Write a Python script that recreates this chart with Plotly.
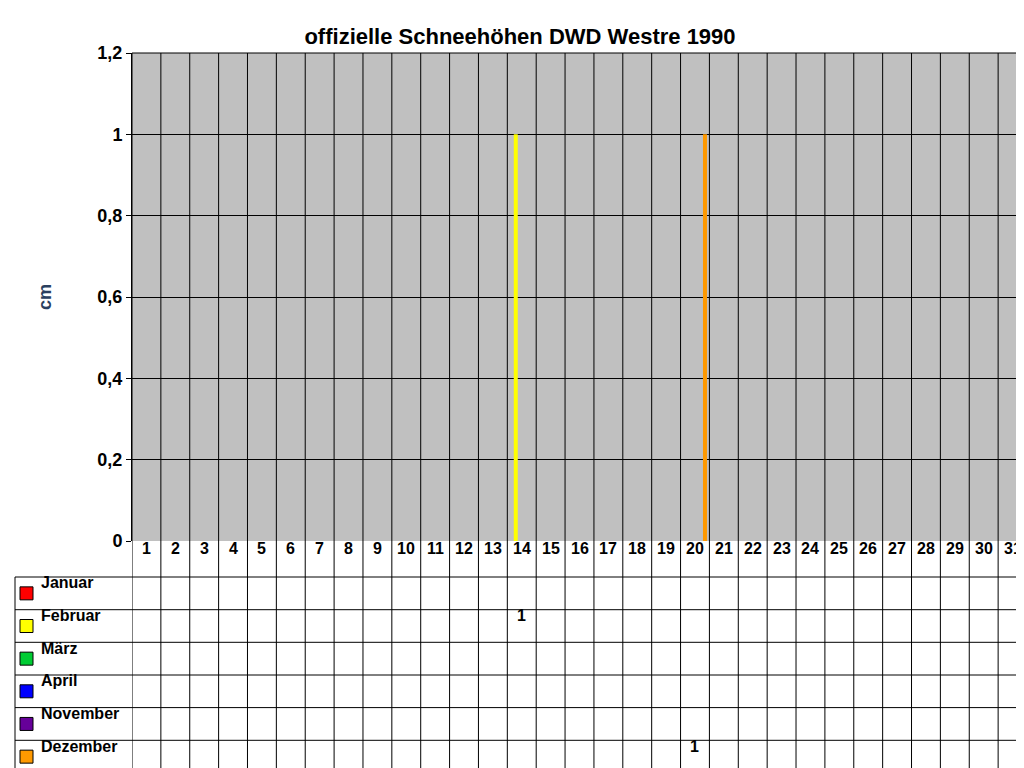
import plotly.graph_objects as go

days = [str(d) for d in range(1, 32)]
januar   = [0,0,0,0,0,0,0,0,0,0,0,0,0,0,0,0,0,0,0,0,0,0,0,0,0,0,0,0,0,0,0]
februar  = [0,0,0,0,0,0,0,0,0,0,0,0,0,1,0,0,0,0,0,0,0,0,0,0,0,0,0,0,0,0,0]
maerz    = [0,0,0,0,0,0,0,0,0,0,0,0,0,0,0,0,0,0,0,0,0,0,0,0,0,0,0,0,0,0,0]
april    = [0,0,0,0,0,0,0,0,0,0,0,0,0,0,0,0,0,0,0,0,0,0,0,0,0,0,0,0,0,0,0]
november = [0,0,0,0,0,0,0,0,0,0,0,0,0,0,0,0,0,0,0,0,0,0,0,0,0,0,0,0,0,0,0]
dezember = [0,0,0,0,0,0,0,0,0,0,0,0,0,0,0,0,0,0,0,1,0,0,0,0,0,0,0,0,0,0,0]
names = ["Januar", "Februar", "März", "April", "November", "Dezember"]
colors = ["#FF0000", "#FFFF00", "#00CC33", "#0000FF", "#660099", "#FF9900"]
series = [januar, februar, maerz, april, november, dezember]

L, R, T, B = 124, 1019, 45, 533
def py(p):  # pixel y -> paper y
    return (B - p) / (B - T)
def px(p):
    return (p - L) / (R - L)

fig = go.Figure()
for n, c, s in zip(names, colors, series):
    fig.add_trace(go.Bar(x=list(range(1, 32)), y=s, name=n, marker_color=c,
                         marker_line_width=0, showlegend=False))

shapes = []
# vertical column lines through plot and table
for i in range(32):
    shapes.append(dict(type="line", xref="x", yref="paper", x0=i + 0.5, x1=i + 0.5,
                       y0=py(765), y1=1, line=dict(color="black", width=1), layer="above"))
rows = [569, 601.7, 634.3, 667, 699.6, 732.3, 765]
for r in rows:
    shapes.append(dict(type="line", xref="paper", yref="paper", x0=px(7), x1=1,
                       y0=py(r), y1=py(r), line=dict(color="black", width=1)))
shapes.append(dict(type="line", xref="paper", yref="paper", x0=px(7), x1=px(7),
                   y0=py(765), y1=py(569), line=dict(color="black", width=1)))
shapes.append(dict(type="line", xref="paper", yref="paper", x0=0, x1=1,
                   y0=1, y1=1, line=dict(color="black", width=1)))

ann = []
font = dict(family="Liberation Sans", size=16, color="black")
for i, d in enumerate(days):
    ann.append(dict(x=i + 1, y=py(551), xref="x", yref="paper", text="<b>%s</b>" % d,
                    showarrow=False, font=font))
for k, (n, c, s) in enumerate(zip(names, colors, series)):
    yc = (rows[k] + rows[k + 1]) / 2
    shapes.append(dict(type="rect", xref="paper", yref="paper", x0=px(12), x1=px(25),
                       y0=py(yc + 6.5), y1=py(yc - 6.5), fillcolor=c,
                       line=dict(color="black", width=1)))
    ann.append(dict(x=px(31), y=py(yc), xref="paper", yref="paper", text="<b>%s</b>" % n,
                    showarrow=False, xanchor="left", font=font))
    for i, v in enumerate(s):
        if v:
            ann.append(dict(x=i + 1, y=py(yc), xref="x", yref="paper", text="<b>%g</b>" % v,
                            showarrow=False, font=font))
ann.append(dict(x=px(25), y=py(289), xref="paper", yref="paper", text="<b>cm</b>",
                showarrow=False, textangle=-90, font=dict(family="Liberation Sans", size=18)))

fig.update_layout(
    width=1024, height=768, margin=dict(l=L, r=1024 - R, t=T, b=768 - B),
    paper_bgcolor="white", plot_bgcolor="#C0C0C0",
    barmode="group", bargap=0.17, bargroupgap=0,
    title=dict(text="<b>offizielle Schneehöhen DWD Westre 1990</b>", x=0.5, xanchor="center",
               y=1 - 28 / 768, yanchor="middle",
               font=dict(family="Liberation Sans", size=22, color="black")),
    xaxis=dict(range=[0.5, 31.5], showticklabels=False, showgrid=False, zeroline=False,
               ticks=""),
    yaxis=dict(range=[0, 1.2], dtick=0.2, showgrid=True, gridcolor="black", gridwidth=1,
               zeroline=False, showline=True, linecolor="black", ticks="outside", ticklen=5,
               tickcolor="black", separatethousands=False, tickformat=",.1~f",
               tickfont=dict(family="Liberation Sans", size=18, color="black")),
    separators=", ",
    shapes=shapes, annotations=ann,
)
fig.update_yaxes(tickprefix="<b>", ticksuffix="</b>")
fig.write_html("out.html")
